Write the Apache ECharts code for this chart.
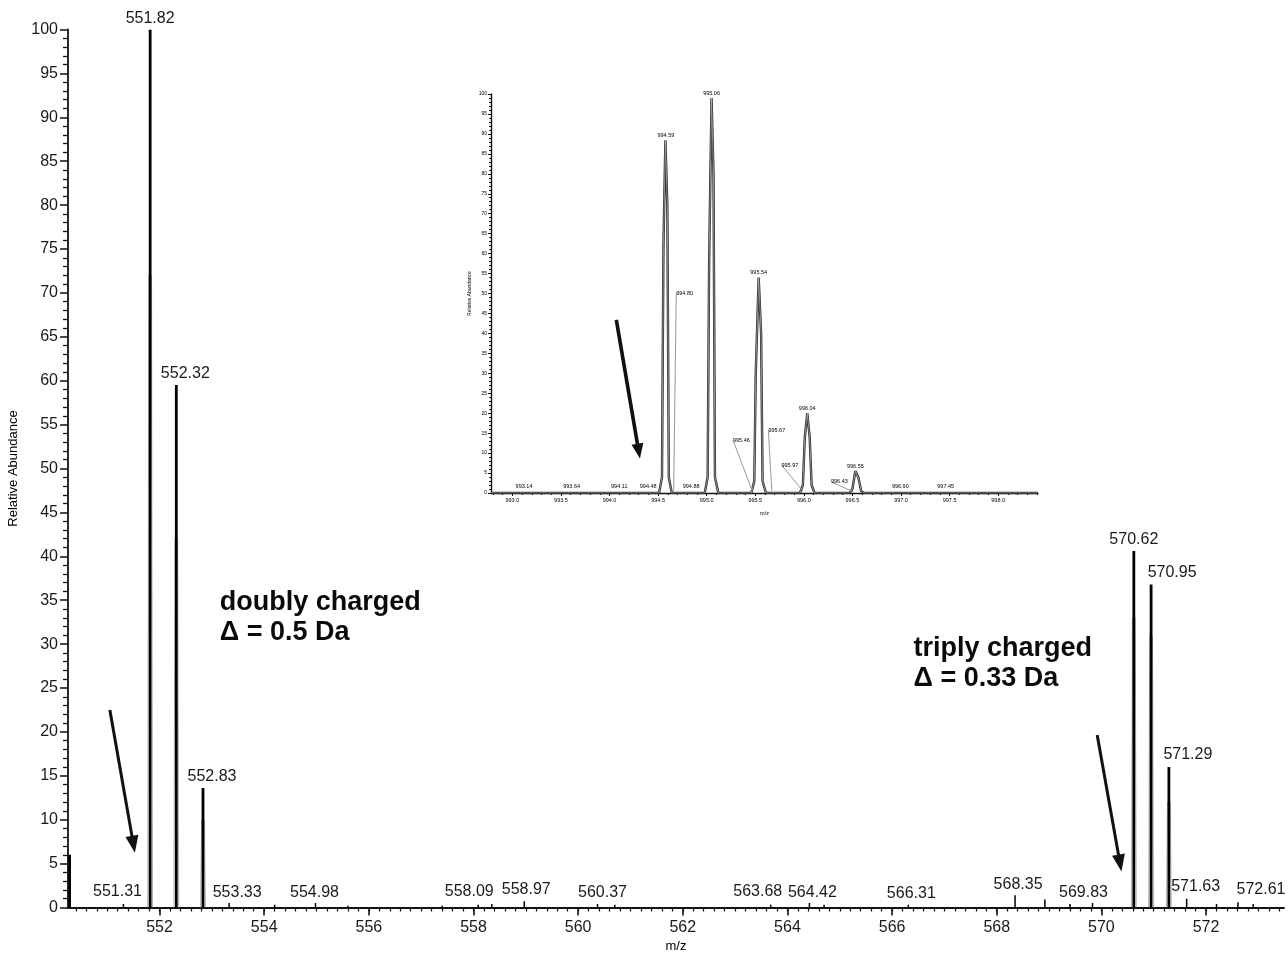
<!DOCTYPE html>
<html><head><meta charset="utf-8">
<script src="https://cdn.jsdelivr.net/npm/echarts@6/dist/echarts.min.js"></script>
<style>html,body{margin:0;padding:0;background:#fff}#c{width:1288px;height:953px}</style>
</head><body><div id="c"></div>
<script>
// ---------- main spectrum data ----------
const mainPeakMz    = [550.28, 551.31, 551.82, 552.32, 552.83, 553.33, 554.20, 554.98, 555.60, 557.40, 558.09, 558.35, 558.97, 560.37, 560.70, 563.68, 564.42, 564.70, 566.31, 568.35, 568.92, 569.40, 569.83, 570.62, 570.95, 571.29, 571.63, 572.20, 572.61, 572.90];
const mainPeakAbund = [6.0,    0.4,    100,    59.5,   13.6,   0.5,    0.3,    0.5,    0.2,    0.2,    0.3,    0.4,    0.7,    0.4,    0.3,    0.3,    0.5,    0.3,    0.3,    1.4,    0.9,    0.4,    0.5,    40.6,   36.8,   16.0,   1.0,    0.4,    0.6,    0.4];
const profileMz     = [551.82, 552.32, 552.83, 570.62, 570.95, 571.29];
const profileAbund  = [72,     42,     10,     33,     31,     12];
const mainLabels    = ['551.31','551.82','552.32','552.83','553.33','554.98','558.09','558.97','560.37','563.68','564.42','566.31','568.35','569.83','570.62','570.95','571.29','571.63','572.61'];
const mainTickLabels = [552, 554, 556, 558, 560, 562, 564, 566, 568, 570, 572];
const annotations = [
  {mz: 553.15, abund: 33.0, text: 'doubly charged\nΔ = 0.5 Da'},
  {mz: 566.41, abund: 27.8, text: 'triply charged\nΔ = 0.33 Da'}
];
const mainArrows = [
  [[551.05, 22.5], [551.50, 7.2]],
  [[569.92, 19.65], [570.355, 5.06]]
];

// ---------- inset spectrum data ----------
const insetProfileMz    = [992.78, 994.51, 994.54, 994.555, 994.575, 994.595, 994.61, 994.64, 994.98, 995.01, 995.025, 995.05, 995.07, 995.085, 995.12, 995.46, 995.49, 995.505, 995.535, 995.56, 995.575, 995.61, 995.96, 995.99, 996.01, 996.035, 996.06, 996.08, 996.11, 996.47, 996.50, 996.53, 996.56, 996.59, 996.62, 998.41];
const insetProfileAbund = [0,      0,      4,      62,      88.4,    72,      4,      0,      0,      4,      58,      99,     80,     4,       0,      0,      3,      30,      54,      40,     3,       0,      0,      2,      14,     20,      14,     2,      0,      0,      1,      5.5,    4,      0.5,    0,      0];
const insetLabelMz    = [993.12, 993.61, 994.10, 994.48, 994.58, 994.84, 995.05, 995.535, 996.035, 996.53, 996.90, 997.46];
const insetLabelAbund = [0.5,    0.5,    0.5,    0.5,    88.4,   0.5,    99,     54,      20,      5.5,    0.5,    0.5];
const insetLabelText  = ['993.14','993.64','994.11','994.48','994.59','994.88','995.06','995.54','996.04','996.55','996.90','997.45'];
const insetLeaderMz    = [994.66, 995.47, 995.67, 995.99, 996.51];
const insetLeaderAbund = [0.5,    0.5,    0.5,    0.5,    0.3];
const insetLeaderText  = ['994.80','995.46','995.67','995.97','996.43'];
const insetTickLabels = [993.0, 993.5, 994.0, 994.5, 995.0, 995.5, 996.0, 996.5, 997.0, 997.5, 998.0];
const insetArrow = [[994.07, 43.4], [994.30, 10.5]];

// ---------- styling (offsets in px) ----------
const FONT = "'Liberation Sans', Arial, sans-serif";
const TXT = '#000';
const mainLabelShift = {'552.32':[9,0],'552.83':[9,0],'554.98':[-1,0],'558.97':[2,-1],'560.37':[5,0],'564.42':[3,0],'566.31':[3,0],'568.35':[3,0],'569.83':[-9,0],
  '551.31':[-6,-1],'553.33':[8,0],'558.09':[-9,-2],'563.68':[-13,-2],'570.95':[21,-1],'571.29':[19,-1],'571.63':[9,-1],'572.61':[23,-2]};
const insetLabelShift = {'994.48':[-8,0],'994.88':[0,0],'996.90':[9,0]};
const insetLeaderShift = {'994.80':[11,-198],'995.46':[-11,-51],'995.67':[5,-61],'995.97':[-13,-26],'996.43':[-14,-10]};

function heightOf(mzStr){
  const v = parseFloat(mzStr);
  let best = 0, bd = 1e9;
  mainPeakMz.forEach((m,i)=>{ const d = Math.abs(m - v); if (d < bd){ bd = d; best = i; } });
  return mainPeakAbund[best];
}
function stepList(a, b, s){ const out=[]; for (let k=Math.round(a/s); k*s<=b+1e-9; k++){ out.push(+(k*s).toFixed(3)); } return out; }
const mainMinor = stepList(550.4, 573.4, 0.2);
const insetMinor = stepList(992.8, 998.4, 0.1);

const chart = echarts.init(document.getElementById('c'), null, {renderer:'canvas'});
const axisCol = '#111';
const solid = {opacity: 1};
chart.setOption({
  animation: false,
  backgroundColor: '#fff',
  textStyle: {fontFamily: FONT},
  grid: [
    {left: 68, right: 4, top: 29.5, bottom: 45.5, containLabel: false, outerBoundsMode: 'none'},
    {left: 491, right: 250, top: 94, bottom: 460, containLabel: false, outerBoundsMode: 'none'}
  ],
  xAxis: [
    {gridIndex: 0, type: 'value', min: 550.25, max: 573.49, position: 'bottom',
     axisLine: {show: true, onZero: false, lineStyle: {color: axisCol, width: 1.8}},
     axisTick: {show: true, customValues: mainTickLabels, length: 8, lineStyle: {color: axisCol, width: 1.6}},
     axisLabel: {customValues: mainTickLabels, fontSize: 16, color: '#1a1a1a', margin: 12, fontFamily: FONT},
     splitLine: {show: false},
     name: 'm/z', nameLocation: 'middle', nameGap: 32, nameTextStyle: {fontSize: 13, color: TXT, fontFamily: FONT}},
    {gridIndex: 0, type: 'value', min: 550.25, max: 573.49, position: 'bottom',
     axisLine: {show: false},
     axisTick: {show: true, customValues: mainMinor, length: 4, lineStyle: {color: axisCol, width: 1.2}},
     axisLabel: {show: false}, splitLine: {show: false}},
    {gridIndex: 1, type: 'value', min: 992.78, max: 998.41, position: 'bottom',
     axisLine: {show: true, onZero: false, lineStyle: {color: axisCol, width: 1.4}},
     axisTick: {show: true, customValues: insetTickLabels, length: 3, lineStyle: {color: axisCol}},
     axisLabel: {customValues: insetTickLabels, fontSize: 5.5, color: TXT, margin: 4, formatter: v => Number(v).toFixed(1)},
     splitLine: {show: false},
     name: 'm/z', nameLocation: 'middle', nameGap: 17, nameTextStyle: {fontSize: 5.5, color: TXT}},
    {gridIndex: 1, type: 'value', min: 992.78, max: 998.41, position: 'bottom',
     axisLine: {show: false},
     axisTick: {show: true, customValues: insetMinor, length: 2, lineStyle: {color: axisCol}},
     axisLabel: {show: false}, splitLine: {show: false}}
  ],
  yAxis: [
    {gridIndex: 0, type: 'value', min: 0, max: 100, interval: 5,
     axisLine: {show: true, lineStyle: {color: axisCol, width: 1.8}},
     axisTick: {show: true, length: 8, lineStyle: {color: axisCol, width: 1.5}},
     minorTick: {show: true, splitNumber: 5, length: 5, lineStyle: {color: axisCol, width: 1.3}},
     axisLabel: {fontSize: 16, color: '#1a1a1a', margin: 10},
     splitLine: {show: false},
     name: 'Relative Abundance', nameLocation: 'middle', nameGap: 37, nameRotate: 90,
     nameTextStyle: {fontSize: 13, color: TXT}},
    {gridIndex: 1, type: 'value', min: 0, max: 100, interval: 5,
     axisLine: {show: true, lineStyle: {color: axisCol, width: 1.4}},
     axisTick: {show: true, length: 3, lineStyle: {color: axisCol}},
     minorTick: {show: true, splitNumber: 5, length: 2, lineStyle: {color: axisCol}},
     axisLabel: {fontSize: 5, color: TXT, margin: 4},
     splitLine: {show: false},
     name: 'Relative Abundance', nameLocation: 'middle', nameGap: 19, nameRotate: 90,
     nameTextStyle: {fontSize: 5, color: TXT}}
  ],
  series: [
    // centroid sticks
    {type: 'custom', xAxisIndex: 0, yAxisIndex: 0, z: 3, clip: true,
     data: mainPeakMz.map((m,i) => [m, mainPeakAbund[i]]),
     renderItem: (params, api) => {
       const b = api.coord([api.value(0), 0]);
       const t = api.coord([api.value(0), api.value(1)]);
       const w = api.value(1) > 3 ? 2.8 : 1.5;
       return {type: 'line', shape: {x1: b[0], y1: b[1], x2: t[0], y2: t[1]}, style: {stroke: '#000', lineWidth: w}};
     }},
    // profile flanks (grey)
    {type: 'custom', xAxisIndex: 0, yAxisIndex: 0, z: 2, clip: true,
     data: profileMz.map((m,i) => [m, profileAbund[i]]),
     renderItem: (params, api) => {
       const b = api.coord([api.value(0), 0]);
       const t = api.coord([api.value(0), api.value(1)]);
       return {type: 'group', children: [
         {type: 'line', shape: {x1: b[0]-2.4, y1: b[1], x2: t[0]-1.4, y2: t[1]}, style: {stroke: '#b0b0b0', lineWidth: 1}},
         {type: 'line', shape: {x1: b[0]+2.4, y1: b[1], x2: t[0]+1.4, y2: t[1]}, style: {stroke: '#b0b0b0', lineWidth: 1}}
       ]};
     }},
    // main peak labels
    {type: 'scatter', xAxisIndex: 0, yAxisIndex: 0, symbolSize: 0, z: 5, silent: true, itemStyle: solid,
     data: mainLabels.map(t => ({value: [parseFloat(t), heightOf(t)], name: t,
       label: {offset: (mainLabelShift[t] || [0,0])}})),
     label: {show: true, position: 'top', distance: 3, formatter: p => p.name, fontSize: 16, color: '#1a1a1a', fontFamily: FONT}},
    // annotations + arrows
    {type: 'scatter', xAxisIndex: 0, yAxisIndex: 0, symbolSize: 0, z: 6, silent: true, itemStyle: solid,
     data: annotations.map(a => ({value: [a.mz, a.abund], name: a.text})),
     label: {show: true, position: 'right', distance: 0, align: 'left', formatter: p => p.name,
             fontSize: 27, fontWeight: 'bold', lineHeight: 30, color: '#0a0a0a', fontFamily: FONT},
     markLine: {silent: true, symbol: ['none', 'triangle'], symbolSize: [13, 17], label: {show: false},
       lineStyle: {color: '#111', width: 3, type: 'solid'},
       data: mainArrows.map(a => [{coord: a[0]}, {coord: a[1]}])}},
    // inset profile (dark outline + grey core)
    {type: 'line', xAxisIndex: 2, yAxisIndex: 1, z: 3, showSymbol: false, silent: true,
     data: insetProfileMz.map((m,i) => [m, insetProfileAbund[i]]),
     lineStyle: {color: '#2a2a2a', width: 2.4},
     markLine: {silent: true, symbol: ['none', 'triangle'], symbolSize: [12, 15], label: {show: false},
       lineStyle: {color: '#111', width: 3.6, type: 'solid'},
       data: [[{coord: insetArrow[0]}, {coord: insetArrow[1]}]]}},
    {type: 'line', xAxisIndex: 2, yAxisIndex: 1, z: 4, showSymbol: false, silent: true,
     data: insetProfileMz.map((m,i) => [m, insetProfileAbund[i]]),
     lineStyle: {color: '#bdbdbd', width: 0.7}},
    // inset labels
    {type: 'scatter', xAxisIndex: 2, yAxisIndex: 1, symbolSize: 0, z: 5, silent: true, itemStyle: solid,
     data: insetLabelText.map((t,i) => ({value: [insetLabelMz[i], insetLabelAbund[i]], name: t,
       label: {offset: (insetLabelShift[t] || [0,0])}})),
     label: {show: true, position: 'top', distance: 2, formatter: p => p.name, fontSize: 5.5, color: TXT}},
    {type: 'scatter', xAxisIndex: 2, yAxisIndex: 1, symbolSize: 0, z: 5, silent: true, itemStyle: solid,
     data: insetLeaderText.map((t,i) => ({value: [insetLeaderMz[i], insetLeaderAbund[i]], name: t})),
     label: {show: true, position: 'inside', formatter: p => p.name, fontSize: 5.5, color: TXT},
     labelLayout: p => { const s = insetLeaderShift[insetLeaderText[p.dataIndex]]; return {dx: s[0], dy: s[1]}; },
     labelLine: {show: true, lineStyle: {color: '#999', width: 1}}}
  ]
});
</script>
</body></html>
